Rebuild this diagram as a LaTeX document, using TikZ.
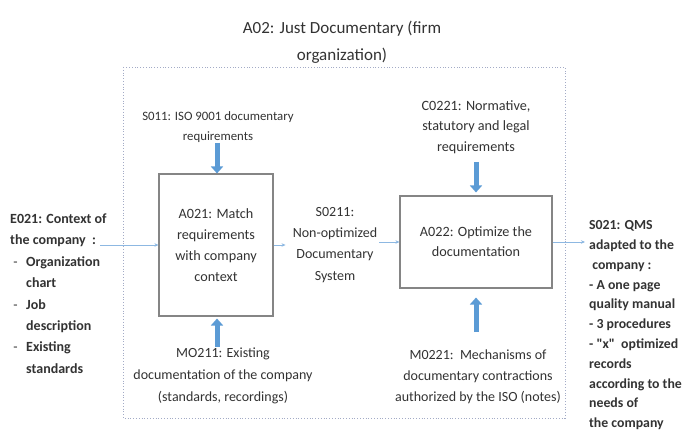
\documentclass[tikz,border=0pt]{standalone}
\usepackage{fontspec}
\setmainfont{Carlito}[Ligatures=TeXOff]
\usetikzlibrary{arrows.meta}
\definecolor{txt}{HTML}{333333}
\definecolor{boxgray}{HTML}{858585}
\definecolor{framec}{HTML}{A3ABC6}
\definecolor{thickblue}{HTML}{5B9BD5}
\definecolor{thinblue}{HTML}{8DB8E2}
\tikzset{
  lbl/.style={inner sep=0pt, text=txt, align=center},
  lbll/.style={inner sep=0pt, text=txt, align=left},
  actbox/.style={draw=boxgray, line width=1.1pt, inner sep=0pt, text=txt, align=center},
  thinarrow/.style={draw=thinblue, line width=0.8pt, -{Stealth[length=4pt,width=3.5pt]}},
  bigarrow/.style={draw=thickblue, line width=5pt, -{Triangle[width=12pt,length=7pt]}},
  frame/.style={draw=framec, line width=0.8pt, dotted}
}
\begin{document}
\begin{tikzpicture}[x=1pt,y=-1pt]
\useasboundingbox (0,0) rectangle (683,441);
\fill[white] (0,0) rectangle (683,441);

\node[lbl, anchor=north, font=\fontsize{17}{27}\selectfont] (title) at (342,21)
  {A02: Just Documentary (firm\\organization)};

\draw[frame] (123,67) rectangle (565,418);

\node[lbl, anchor=north, font=\fontsize{12.8}{20}\selectfont] (S011) at (218,111)
  {S011: ISO 9001 documentary\\requirements};

\node[lbl, anchor=north, font=\fontsize{14.2}{20.5}\selectfont] (C0221) at (476,100)
  {C0221: Normative,\\statutory and legal\\requirements};

\node[actbox, minimum width=114pt, minimum height=142pt, font=\fontsize{14.2}{21}\selectfont] (A021) at (216,245)
  {A021: Match\\requirements\\with company\\context};

\node[actbox, minimum width=152pt, minimum height=92pt, font=\fontsize{14.2}{20}\selectfont] (A022) at (476,242)
  {A022: Optimize the\\documentation};

\node[lbl, anchor=north, font=\fontsize{14}{21.3}\selectfont] (S0211) at (335,207)
  {S0211:\\Non-optimized\\Documentary\\System};

\node[lbl, anchor=north, font=\fontsize{14}{22}\selectfont] (MO211) at (223,348)
  {MO211: Existing\\documentation of the company\\(standards, recordings)};

\node[lbl, anchor=north, font=\fontsize{14}{21}\selectfont] (M0221) at (478,350)
  {M0221:\ \ Mechanisms of\\documentary contractions\\authorized by the ISO (notes)};

\node[lbll, anchor=north west, font=\bfseries\fontsize{14}{21.4}\selectfont] (E021) at (10,213.5)
  {E021: Context of\\
   the company\ \ :\\
   \makebox[16pt][l]{\mdseries\ -}Organization\\
   \hspace*{16pt}chart\\
   \makebox[16pt][l]{\mdseries\ -}Job\\
   \hspace*{16pt}description\\
   \makebox[16pt][l]{\mdseries\ -}Existing\\
   \hspace*{16pt}standards};

\node[lbll, anchor=north west, font=\bfseries\fontsize{13.8}{19.8}\selectfont] (S021) at (589,220.5)
  {S021: QMS\\
   adapted to the\\
   \ company :\\
   - A one page\\
   quality manual\\
   - 3 procedures\\
   - "x"\ \ optimized\\
   records\\
   according to the\\
   needs of\\
   the company};

% thin flow arrows
\coordinate (e0) at (100,245);
\draw[thinarrow] (e0) -- (A021.west |- e0);
\draw[thinarrow, shorten >=7pt] (A021.east) -- (S0211.west |- A021.east);
\draw[thinarrow, shorten <=2pt] (S0211.east |- A022.west) -- (A022.west);
\draw[thinarrow, shorten >=4pt] (A022.east) -- (S021.west |- A022.east);

% thick control / mechanism arrows
\coordinate (s11) at (217,143);
\coordinate (m11) at (217,347);
\coordinate (c21) at (476,162);
\coordinate (m21) at (476,332);
\draw[bigarrow] (s11) -- (A021.north -| s11);
\draw[bigarrow, shorten >=2pt] (m11) -- (A021.south -| m11);
\draw[bigarrow, shorten >=3pt] (c21) -- (A022.north);
\draw[bigarrow, shorten >=9pt] (m21) -- (A022.south);
\end{tikzpicture}
\end{document}
